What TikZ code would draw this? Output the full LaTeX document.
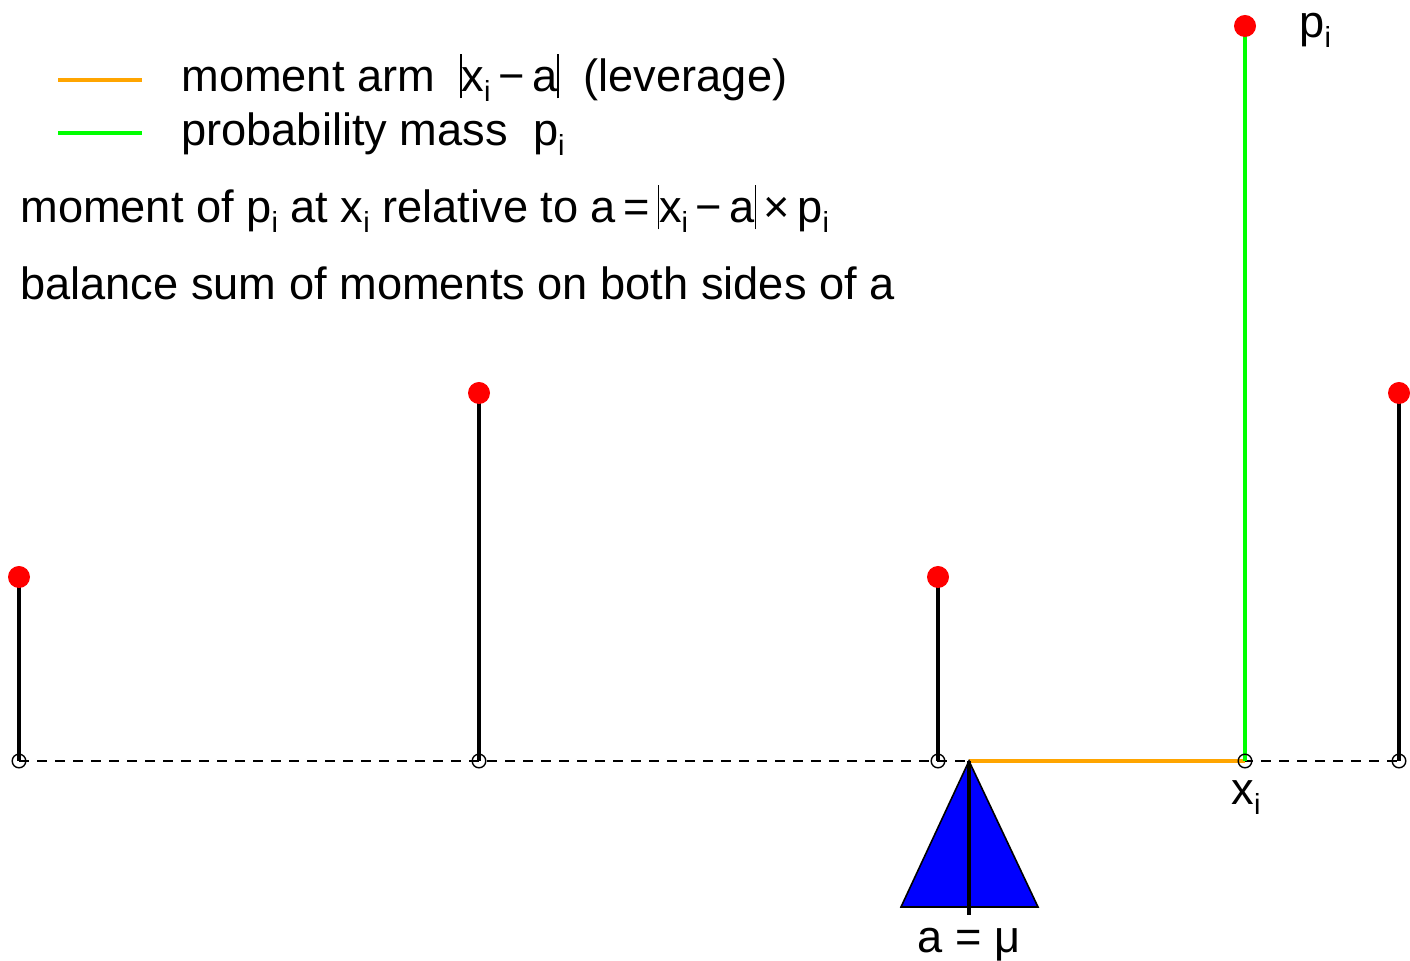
\documentclass[tikz,border=0pt]{standalone}
\usepackage{fontspec}
\setmainfont{Liberation Sans}
\definecolor{armorange}{RGB}{255,165,0}
\definecolor{massgreen}{RGB}{0,255,0}
\newcommand\sbi{\raisebox{-0.22em}{\fontsize{14.5pt}{14.5pt}\selectfont i}}
\newcommand\vbr{\rule[-0.14em]{0.7pt}{0.98em}}
\begin{document}
\begin{tikzpicture}[x=0.5pt,y=-0.5pt,
  txt/.style={inner sep=0pt,anchor=base west,font=\fontsize{22.6pt}{27pt}\selectfont},
  reddot/.style={circle,fill=red,inner sep=0pt,minimum size=11pt},
  opendot/.style={circle,draw=black,line width=0.7pt,inner sep=0pt,minimum size=6.8pt},
  stem/.style={line width=2pt,black},
  arm/.style={line width=2pt,armorange},
  mass/.style={line width=2pt,massgreen}]
\useasboundingbox (0,0) rectangle (1410,961);
% baseline points
\coordinate (b1) at (19,761);
\coordinate (b2) at (479,761);
\coordinate (b3) at (938,761);
\coordinate (b4) at (1245,761);
\coordinate (b5) at (1399,761);
\coordinate (apex) at (969,761);
\draw[black,line width=0.75pt,dash pattern=on 5pt off 4pt] (b1) -- (b5);
\draw[arm] (apex) -- (b4);
% top dots
\coordinate (t1) at (19,577);
\coordinate (t2) at (479,393);
\coordinate (t3) at (938,577);
\coordinate (t4) at (1245,26);
\coordinate (t5) at (1399,393);
\draw[stem] (t1) -- (b1);
\draw[stem] (t2) -- (b2);
\draw[stem] (t3) -- (b3);
\draw[mass] (t4) -- (b4);
\draw[stem] (t5) -- (b5);
\foreach \i in {1,...,5}{
  \node[opendot] (o\i) at (b\i) {};
  \node[reddot] (d\i) at (t\i) {};
}
% fulcrum
\coordinate (bl) at (901,907);
\coordinate (br) at (1038,907);
\coordinate (pin) at (969,915);
\draw[fill=blue,draw=black,line width=0.8pt] (apex) -- (bl) -- (br) -- cycle;
\draw[stem] (apex) -- (pin);
\node[txt,anchor=base] (mu) at (969,953) {a = μ};
\node[txt] (xi) at (1231,805) {x\sbi};
\node[txt] (pi) at (1299,38) {p\sbi};
% legend
\coordinate (l1a) at (58,80); \coordinate (l1b) at (142,80);
\coordinate (l2a) at (58,133); \coordinate (l2b) at (142,133);
\draw[arm] (l1a) -- (l1b);
\draw[mass] (l2a) -- (l2b);
\node[txt] (leg1) at (181,92) {moment arm \ \vbr x\sbi\,−\,a\vbr\ \ (leverage)};
\node[txt] (leg2) at (181,146) {probability mass \ p\sbi};
\node[txt] (m) at (20,223) {moment of p\sbi{} at x\sbi{} relative to a\,=\,\vbr x\sbi\,−\,a\vbr\,×\,p\sbi};
\node[txt] (bal) at (20,300) {balance sum of moments on both sides of a};
\end{tikzpicture}
\end{document}
